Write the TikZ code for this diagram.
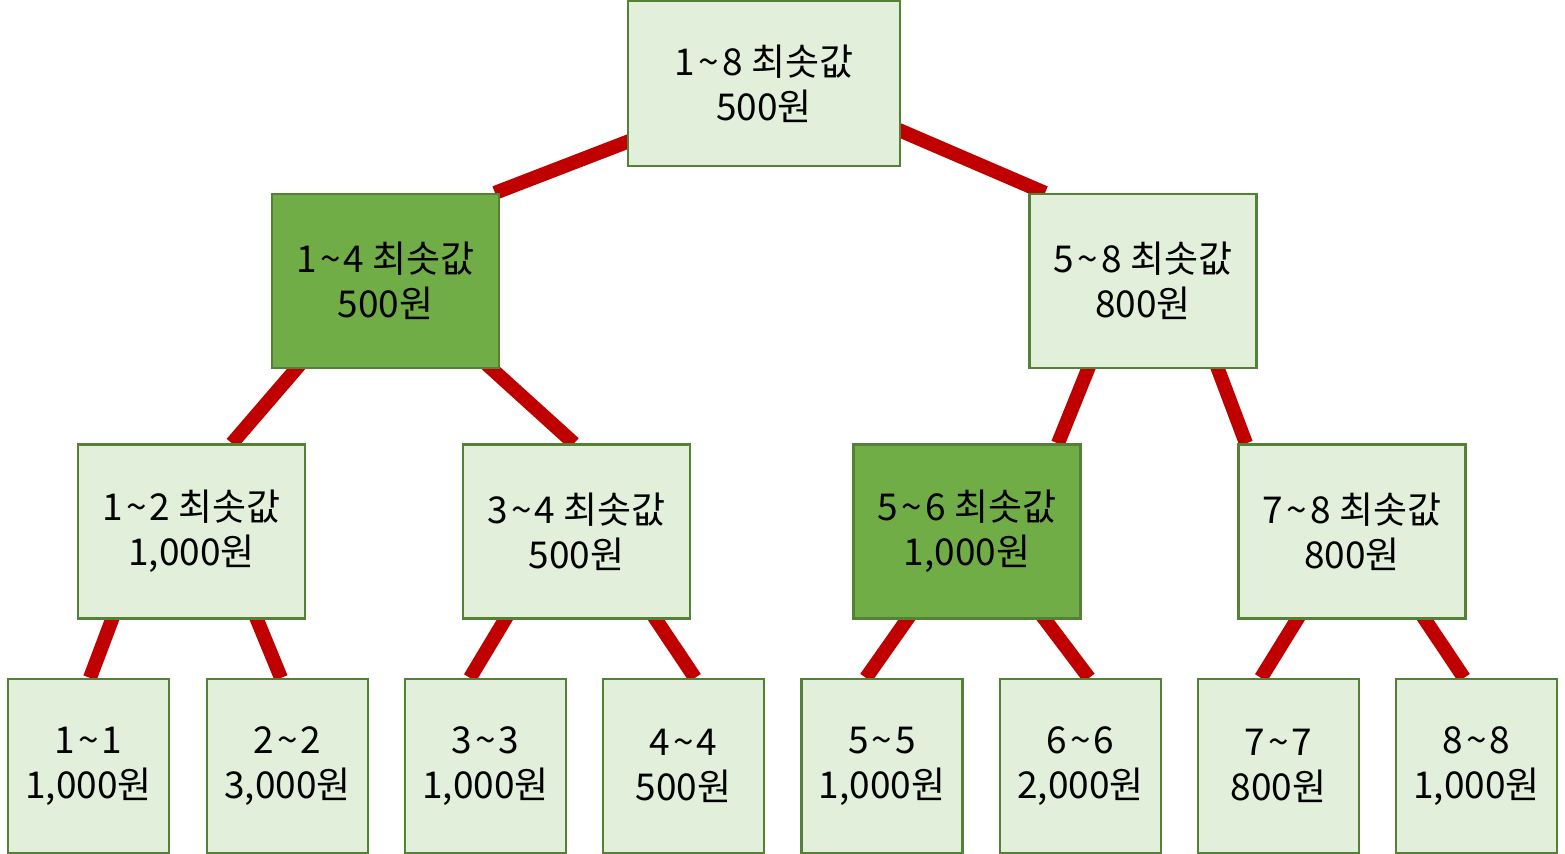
\documentclass[tikz,border=0pt]{standalone}
\usepackage{fontspec}
\setmainfont{Noto Sans CJK KR}
\definecolor{lightg}{HTML}{E2EFDA}
\definecolor{darkg}{HTML}{70AD47}
\definecolor{edgeg}{HTML}{538135}
\definecolor{linkred}{HTML}{C00000}
\newcommand{\tld}{\kern1.6pt\textasciitilde\kern1.6pt}
\begin{document}
\begin{tikzpicture}[x=0.5pt,y=-0.5pt,
  box/.style={draw=edgeg,line width=1.1pt,fill=lightg,align=center,inner sep=0pt,
    font=\fontsize{18.5}{22.5}\selectfont},
  hot/.style={box,fill=darkg},
  wide/.style={minimum width=113.5pt,minimum height=87pt},
  leaf/.style={minimum width=80.5pt,minimum height=87pt},
  link/.style={draw=linkred,line width=7pt,shorten <=-10pt}]
\useasboundingbox (0,0) rectangle (1565,854);
% nodes placed first to get anchors (drawn again on top later)
\begin{scope}[overlay,opacity=0]
\node[box,minimum width=136pt,minimum height=82.5pt] (root) at (764,83.5) {};
\node[box,wide] (a) at (385.5,281) {};
\node[box,wide] (b) at (1143,281) {};
\node[box,wide] (aa) at (191.5,531.5) {};
\node[box,wide] (ab) at (576.5,531.5) {};
\node[box,wide] (ba) at (967,531.5) {};
\node[box,wide] (bb) at (1352,531.5) {};
\node[box,leaf] (x1) at (88.5,766) {};
\node[box,leaf] (x2) at (287.5,766) {};
\node[box,leaf] (x3) at (485.5,766) {};
\node[box,leaf] (x4) at (683.5,766) {};
\node[box,leaf] (x5) at (882,766) {};
\node[box,leaf] (x6) at (1080.5,766) {};
\node[box,leaf] (x7) at (1278.5,766) {};
\node[box,leaf] (x8) at (1476.5,766) {};
\end{scope}
% connectors
\draw[link] ([yshift=-29.25pt]root.west) -- ([xshift=54.75pt]a.north);
\draw[link] ([yshift=-23.75pt]root.east) -- ([xshift=-49pt]b.north);
\draw[link] ([xshift=-44.75pt]a.south) -- ([xshift=20.25pt]aa.north);
\draw[link] ([xshift=53.25pt]a.south) -- ([xshift=-1.25pt]ab.north);
\draw[link] ([xshift=-27.5pt]b.south) -- ([xshift=45.5pt]ba.north);
\draw[link] ([xshift=37.5pt]b.south) -- ([xshift=-53pt]bb.north);
\draw[link] ([xshift=-39.75pt]aa.south) -- ([xshift=0.75pt]x1.north);
\draw[link] ([xshift=32.75pt]aa.south) -- ([xshift=-3.25pt]x2.north);
\draw[link] ([xshift=-35.75pt]ab.south) -- ([xshift=-7.75pt]x3.north);
\draw[link] ([xshift=39.75pt]ab.south) -- ([xshift=5.75pt]x4.north);
\draw[link] ([xshift=-30pt]ba.south) -- ([xshift=-8pt]x5.north);
\draw[link] ([xshift=39pt]ba.south) -- ([xshift=4.25pt]x6.north);
\draw[link] ([xshift=-27.5pt]bb.south) -- ([xshift=-8.75pt]x7.north);
\draw[link] ([xshift=36.5pt]bb.south) -- ([xshift=-6.25pt]x8.north);
% visible boxes
\node[box,minimum width=136pt,minimum height=82.5pt] at (root) {1\tld8 최솟값\\500원};
\node[hot,wide] at (a) {1\tld4 최솟값\\500원};
\node[box,wide] at (b) {5\tld8 최솟값\\800원};
\node[box,wide] at (aa) {1\tld2 최솟값\\1,000원};
\node[box,wide] at (ab) {3\tld4 최솟값\\500원};
\node[hot,wide] at (ba) {5\tld6 최솟값\\1,000원};
\node[box,wide] at (bb) {7\tld8 최솟값\\800원};
\node[box,leaf] at (x1) {1\tld1\\1,000원};
\node[box,leaf] at (x2) {2\tld2\\3,000원};
\node[box,leaf] at (x3) {3\tld3\\1,000원};
\node[box,leaf] at (x4) {4\tld4\\500원};
\node[box,leaf] at (x5) {5\tld5\\1,000원};
\node[box,leaf] at (x6) {6\tld6\\2,000원};
\node[box,leaf] at (x7) {7\tld7\\800원};
\node[box,leaf] at (x8) {8\tld8\\1,000원};
\end{tikzpicture}
\end{document}
